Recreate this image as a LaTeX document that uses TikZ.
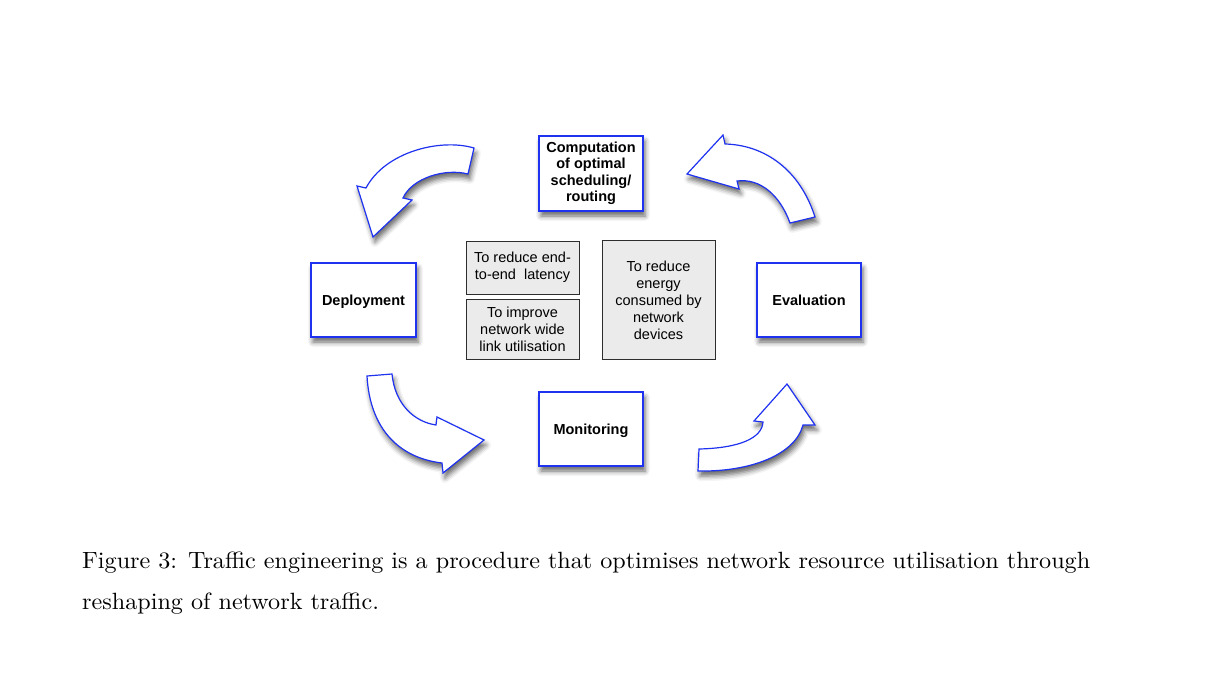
\documentclass[tikz,border=0pt]{standalone}
\usepackage{fontspec}
\usepackage{graphicx}
\newfontfamily\arialf{Liberation Sans}
\newfontfamily\capfont{lmroman10-regular.otf}
\usetikzlibrary{shadows.blur}
\definecolor{myblue}{RGB}{30,50,240}
\definecolor{boxgray}{RGB}{235,235,235}
\definecolor{boxedge}{RGB}{45,45,45}
\newsavebox\capboxA
\newdimen\capw
\tikzset{
  shadowed/.style={blur shadow={shadow xshift=2pt, shadow yshift=-5pt, shadow blur radius=5pt, shadow opacity=60}},
  mainbox/.style={draw=myblue, line width=1.2pt, fill=white, shadowed, inner sep=0pt,
    align=center, font=\arialf\bfseries\fontsize{14.5}{16.5}\selectfont},
  onelabel/.style={text height=10.4pt, text depth=0pt},
  graybox/.style={draw=boxedge, line width=0.9pt, fill=boxgray, inner sep=0pt,
    align=center, font=\arialf\fontsize{14.5}{17}\selectfont},
  blockarrow/.style={draw=myblue, line width=1.2pt, fill=white, line join=miter, shadowed},
  captext/.style={inner sep=0pt, anchor=base west}
}
\begin{document}
\sbox\capboxA{\capfont\fontsize{23.5}{28}\selectfont Figure 3:\hspace{0.45em}Traffic engineering is a procedure that optimises network resource utilisation through}%
\capw=\wd\capboxA
\pgfmathsetmacro\capsx{1008/\capw}%
\begin{tikzpicture}[x=1pt,y=-1pt]
\useasboundingbox (0,0) rectangle (1208,675);
% main boxes
\node[mainbox, minimum width=104pt, minimum height=75pt] (comp) at (591,173.5) {Computation\\of optimal\\scheduling/\\routing};
\node[mainbox, onelabel, minimum width=105pt, minimum height=74pt] (dep) at (363.5,300) {Deployment};
\node[mainbox, onelabel, minimum width=104pt, minimum height=74pt] (eval) at (809,300) {Evaluation};
\node[mainbox, onelabel, minimum width=104pt, minimum height=74pt] (mon) at (591,429) {Monitoring};
% goal boxes
\node[graybox, minimum width=113pt, minimum height=53pt] (g1) at (522.5,267.5) {To reduce end-\\to-end\ \ latency};
\node[graybox, minimum width=113pt, minimum height=60pt] (g2) at (522.5,329.5) {To improve\\network wide\\link utilisation};
\node[graybox, minimum width=113pt, minimum height=118.5pt] (g3) at (658.5,300) {To reduce\\energy\\consumed by\\network\\devices};
% block arrows
\path[blockarrow] (474,148) .. controls (440,138) and (385,152) .. (366,188) -- (357,186) -- (373,237) -- (412,200) -- (403,198) .. controls (412,178) and (445,168) .. (468,174) -- cycle;
\path[blockarrow] (815,217) .. controls (800,170) and (765,145) .. (725,144) -- (723,135) -- (687,174) -- (739,189) -- (737,181) .. controls (760,178) and (780,195) .. (790,223) -- cycle;
\path[blockarrow] (392,374) .. controls (395,405) and (415,422) .. (436,425) -- (437,417) -- (484,440) -- (443,473) -- (442,463) .. controls (400,458) and (370,430) .. (367,376) -- cycle;
\path[blockarrow] (699,449) .. controls (740,448) and (762,438) .. (763,422) -- (754,421) -- (787,384) -- (815,425) -- (803,425) .. controls (795,455) and (750,472) .. (698,471) -- cycle;
% caption
\node[captext] (cap1) at (82,568) {\scalebox{\capsx}[1]{\usebox\capboxA}};
\node[captext] (cap2) at (82,609) {\scalebox{\capsx}[1]{\capfont\fontsize{23.5}{28}\selectfont reshaping of network traffic.}};
\end{tikzpicture}
\end{document}
